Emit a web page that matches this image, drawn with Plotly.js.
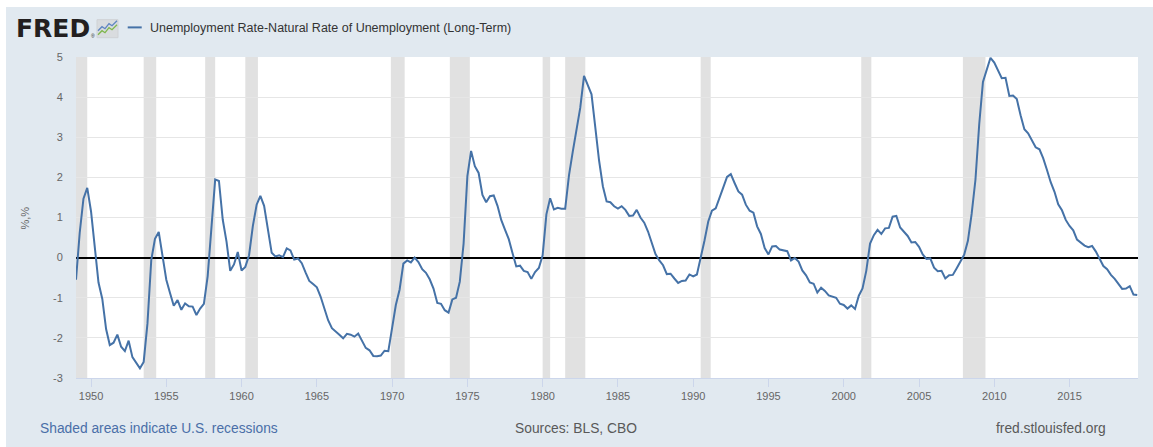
<!DOCTYPE html>
<html>
<head>
<meta charset="utf-8">
<script src="https://cdn.plot.ly/plotly-3.0.1.min.js"></script>
<style>
  html, body { margin: 0; padding: 0; background: #ffffff; }
  #chart { position: absolute; left: 6px; top: 7px; width: 1147px; height: 440px; }
</style>
</head>
<body>
<div id="chart"></div>
<script>
// Quarterly values, first quarter of 1949 onward (percentage points)
const startYear = 1949;
const gap1940s = [-0.55, 0.62, 1.47, 1.74];
const gap1950s = [
  1.15, 0.32, -0.62, -1.03,
  -1.78, -2.18, -2.12, -1.92,
  -2.22, -2.33, -2.07, -2.48,
  -2.62, -2.76, -2.60, -1.64,
  -0.06, 0.47, 0.64, 0.02,
  -0.55, -0.88, -1.20, -1.06,
  -1.30, -1.14, -1.21, -1.22,
  -1.43, -1.27, -1.15, -0.46,
  0.89, 1.95, 1.91, 0.95,
  0.40, -0.33, -0.17, 0.14];
const gap1960s = [
  -0.32, -0.23, 0.06, 0.79,
  1.32, 1.54, 1.29, 0.71,
  0.12, 0.03, 0.06, 0.01,
  0.23, 0.18, -0.05, -0.02,
  -0.14, -0.37, -0.58, -0.66,
  -0.74, -0.97, -1.27, -1.56,
  -1.76, -1.83, -1.92, -2.01,
  -1.90, -1.92, -1.97, -1.89,
  -2.07, -2.25, -2.31, -2.45,
  -2.46, -2.44, -2.32, -2.33];
const gap1970s = [
  -1.75, -1.18, -0.80, -0.15,
  -0.07, -0.12, 0.00, -0.11,
  -0.29, -0.38, -0.54, -0.77,
  -1.13, -1.15, -1.31, -1.37,
  -1.04, -1.00, -0.60, 0.35,
  2.03, 2.66, 2.28, 2.11,
  1.56, 1.38, 1.53, 1.55,
  1.29, 0.94, 0.70, 0.46,
  0.11, -0.22, -0.20, -0.33,
  -0.36, -0.53, -0.36, -0.26];
const gap1980s = [
  0.06, 1.08, 1.48, 1.20,
  1.24, 1.22, 1.22, 2.05,
  2.64, 3.24, 3.73, 4.53,
  4.27, 4.07, 3.25, 2.42,
  1.78, 1.40, 1.38, 1.28,
  1.22, 1.28, 1.19, 1.04,
  1.05, 1.19, 1.00, 0.87,
  0.65, 0.34, 0.09, -0.07,
  -0.19, -0.41, -0.40, -0.52,
  -0.63, -0.58, -0.57, -0.42];
const gap1990s = [
  -0.47, -0.42, -0.03, 0.42,
  0.90, 1.17, 1.23, 1.47,
  1.75, 2.01, 2.08, 1.86,
  1.65, 1.57, 1.32, 1.17,
  1.12, 0.78, 0.59, 0.24,
  0.08, 0.28, 0.29, 0.20,
  0.18, 0.16, -0.07, -0.01,
  -0.10, -0.32, -0.44, -0.62,
  -0.65, -0.87, -0.75, -0.83,
  -0.94, -0.97, -1.00, -1.15];
const gap2000s = [
  -1.18, -1.27, -1.19, -1.28,
  -0.95, -0.77, -0.33, 0.35,
  0.56, 0.69, 0.59, 0.73,
  0.74, 1.02, 1.04, 0.75,
  0.63, 0.54, 0.38, 0.39,
  0.27, 0.08, -0.03, -0.02,
  -0.25, -0.34, -0.33, -0.52,
  -0.44, -0.43, -0.27, -0.11,
  0.07, 0.42, 1.09, 1.94,
  3.33, 4.38, 4.70, 4.98];
const gap2010s = [
  4.86, 4.65, 4.47, 4.48,
  4.03, 4.04, 3.95, 3.55,
  3.20, 3.10, 2.92, 2.75,
  2.70, 2.48, 2.19, 1.88,
  1.64, 1.33, 1.18, 0.94,
  0.79, 0.68, 0.45, 0.38,
  0.30, 0.26, 0.29, 0.15,
  -0.03, -0.21, -0.29, -0.43,
  -0.53, -0.67, -0.78, -0.77,
  -0.71, -0.92, -0.93];

// NBER recessions (shaded)
const recessionStarts = ["1948-11-01","1953-07-01","1957-08-01","1960-04-01","1969-12-01","1973-11-01","1980-01-01","1981-07-01","1990-07-01","2001-03-01","2007-12-01"];
const recessionEnds   = ["1949-10-01","1954-05-01","1958-04-01","1961-02-01","1970-11-01","1975-03-01","1980-07-01","1982-11-01","1991-03-01","2001-11-01","2009-06-01"];

const yTickVals = [-3, -2, -1, 0, 1, 2, 3, 4, 5];
const seriesName = "Unemployment Rate-Natural Rate of Unemployment (Long-Term)";

const values = [].concat(gap1940s, gap1950s, gap1960s, gap1970s, gap1980s, gap1990s, gap2000s, gap2010s);
const months = ["01", "04", "07", "10"];
const dates = values.map((v, i) => (startYear + Math.floor(i / 4)) + "-" + months[i % 4] + "-01");

// plot-area geometry in page pixels (used to place header/footer items)
const PL = 76, PR = 1137.7, PT = 57.3, PB = 378.3;
const px = X => (X - PL) / (PR - PL);
const py = Y => (PB - Y) / (PB - PT);

const shapes = recessionStarts.map((s, i) => ({
  type: "rect", xref: "x", yref: "paper", x0: s, x1: recessionEnds[i], y0: 0, y1: 1,
  fillcolor: "#e1e1e1", line: { width: 0 }, layer: "below"
}));

// legend line
shapes.push({ type: "line", xref: "paper", yref: "paper", x0: px(127.7), x1: px(141.7), y0: py(27.7), y1: py(27.7),
  line: { color: "#4572a7", width: 2 } });
// small FRED graph icon
shapes.push({ type: "rect", xref: "paper", yref: "paper", x0: px(97), x1: px(118), y0: py(38), y1: py(20),
  fillcolor: "#d9dcdf", line: { color: "#cfd2d5", width: 1 } });
function pathOf(pts) {
  return pts.map((p, i) => (i ? "L" : "M") + px(p[0]).toFixed(5) + "," + py(p[1]).toFixed(5)).join(" ");
}
shapes.push({ type: "path", xref: "paper", yref: "paper", path: pathOf([[98,31],[102,27],[105,29],[109,24],[112,26],[117,21]]),
  line: { color: "#5f86c2", width: 1.3 } });
shapes.push({ type: "path", xref: "paper", yref: "paper", path: pathOf([[98,35],[102,31],[105,33],[109,28],[112,30],[117,25]]),
  line: { color: "#7fb74d", width: 1.3 } });

const annotations = [
  { xref: "paper", yref: "paper", x: px(14), y: py(29), xanchor: "left", yanchor: "middle", showarrow: false,
    text: "<b>FRED</b>", font: { family: "DejaVu Sans, Liberation Sans, Arial, sans-serif", size: 25, color: "#231f20" } },
  { xref: "paper", yref: "paper", x: px(89), y: py(36), xanchor: "left", yanchor: "middle", showarrow: false,
    text: "®", font: { family: "Liberation Sans, Arial, sans-serif", size: 5, color: "#231f20" } },
  { xref: "paper", yref: "paper", x: px(148), y: py(28), xanchor: "left", yanchor: "middle", showarrow: false,
    text: seriesName, font: { family: "Liberation Sans, Arial, sans-serif", size: 12.5, color: "#333333" } },
  { xref: "paper", yref: "paper", x: px(25), y: 0.5, xanchor: "center", yanchor: "middle", showarrow: false, textangle: -90,
    text: "%,%", font: { family: "Liberation Sans, Arial, sans-serif", size: 11, color: "#666666" } },
  { xref: "paper", yref: "paper", x: px(38), y: py(429), xanchor: "left", yanchor: "middle", showarrow: false,
    text: "Shaded areas indicate U.S. recessions", font: { family: "Liberation Sans, Arial, sans-serif", size: 13.8, color: "#4a6fa8" } },
  { xref: "paper", yref: "paper", x: px(576), y: py(429), xanchor: "center", yanchor: "middle", showarrow: false,
    text: "Sources: BLS, CBO", font: { family: "Liberation Sans, Arial, sans-serif", size: 13.8, color: "#595959" } },
  { xref: "paper", yref: "paper", x: px(1108), y: py(429), xanchor: "right", yanchor: "middle", showarrow: false,
    text: "fred.stlouisfed.org", font: { family: "Liberation Sans, Arial, sans-serif", size: 13.8, color: "#595959" } }
];

const trace = {
  type: "scatter", mode: "lines", x: dates, y: values, name: seriesName,
  line: { color: "#4572a7", width: 2 }, hoverinfo: "x+y"
};

const layout = {
  width: 1147, height: 440,
  margin: { l: 70, r: 1147 - (PR - 6), t: PT - 7, b: 440 - (PB - 7), pad: 0 },
  paper_bgcolor: "#e1e9f0", plot_bgcolor: "#ffffff",
  showlegend: false,
  font: { family: "Liberation Sans, Arial, sans-serif", size: 11, color: "#666666" },
  xaxis: {
    type: "date", range: ["1949-01-01", "2019-07-20"],
    tick0: "1950-01-01", dtick: "M60", tickformat: "%Y",
    showgrid: false, zeroline: false,
    showline: true, linecolor: "#ccd6eb", linewidth: 1,
    ticks: "outside", ticklen: 8, tickcolor: "#ccd6eb", tickwidth: 1,
    tickfont: { size: 11, color: "#666666" }
  },
  yaxis: {
    range: [-3, 5], tickvals: yTickVals, ticktext: yTickVals.map(String),
    showgrid: true, gridcolor: "#e6e6e6", gridwidth: 1,
    zeroline: true, zerolinecolor: "#000000", zerolinewidth: 2,
    showline: false,
    ticks: "outside", ticklen: 10, tickcolor: "rgba(0,0,0,0)",
    tickfont: { size: 11, color: "#666666" }
  },
  shapes: shapes,
  annotations: annotations
};

Plotly.newPlot("chart", [trace], layout, { displayModeBar: false, staticPlot: true });
</script>
</body>
</html>
